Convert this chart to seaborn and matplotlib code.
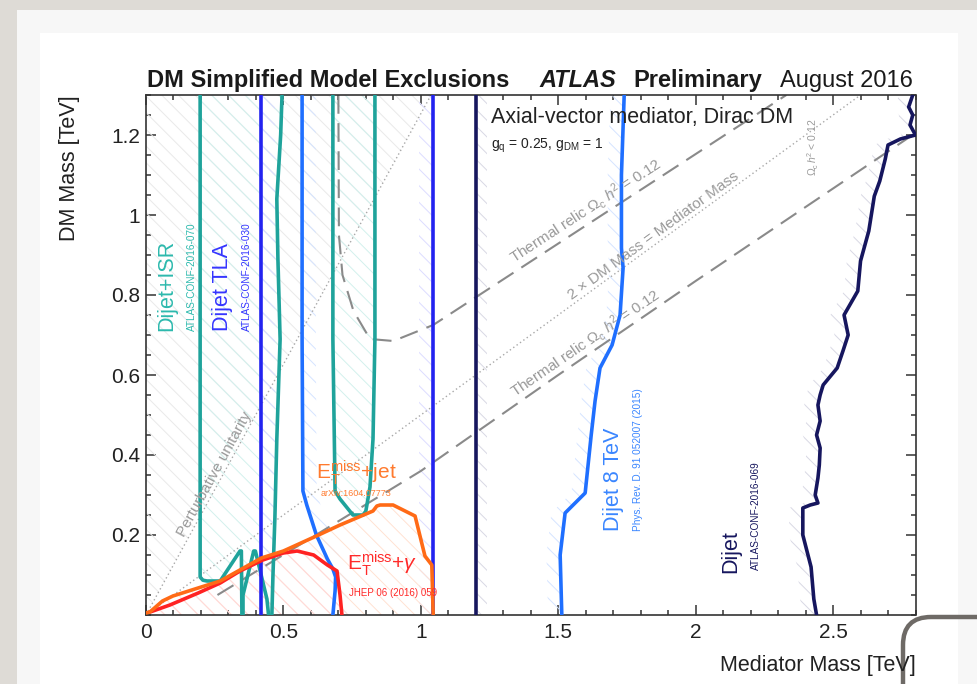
import numpy as np
import pandas as pd
import matplotlib
matplotlib.use("Agg")
import matplotlib.pyplot as plt
import seaborn as sns
from matplotlib.patches import Rectangle, FancyBboxPatch
from matplotlib.ticker import MultipleLocator

# ---------------- data (TeV) ----------------
# Dijet+ISR (ATLAS-CONF-2016-070) contour pieces
isr1_x = [0.197, 0.197, 0.207, 0.222, 0.270, 0.342, 0.347, 0.349]
isr1_y = [1.30, 0.095, 0.087, 0.085, 0.085, 0.160, 0.160, 0.0]
isr2_x = [0.353, 0.353, 0.392, 0.398, 0.440, 0.446]
isr2_y = [0.0, 0.050, 0.160, 0.160, 0.040, 0.0]
isr3_x = [0.458, 0.462, 0.469, 0.476, 0.488, 0.480, 0.476, 0.490, 0.495]
isr3_y = [0.0, 0.100, 0.243, 0.440, 0.690, 0.890, 1.040, 1.200, 1.300]
isru_x = [0.680, 0.680, 0.688, 0.706, 0.753, 0.790, 0.800, 0.815, 0.826, 0.833, 0.833]
isru_y = [1.300, 0.690, 0.310, 0.290, 0.250, 0.250, 0.260, 0.320, 0.440, 0.690, 1.300]

# Dijet TLA (ATLAS-CONF-2016-030) boundaries
tla_bounds = [0.42, 1.045]

# Dijet 8 TeV contour (two boundaries)
d8l_x = [0.568, 0.568, 0.571, 0.585, 0.620, 0.660, 0.680, 0.690, 0.688, 0.680]
d8l_y = [1.30, 0.69, 0.31, 0.275, 0.200, 0.140, 0.115, 0.095, 0.060, 0.0]
d8r_x = [1.513, 1.507, 1.525, 1.598, 1.620, 1.634, 1.652, 1.696, 1.725, 1.736, 1.730, 1.730, 1.740]
d8r_y = [0.0, 0.150, 0.255, 0.305, 0.450, 0.535, 0.6175, 0.675, 0.750, 0.8675, 0.9175, 1.100, 1.300]

# Dijet (ATLAS-CONF-2016-069)
dij_low = 1.20
dij_x = [2.440, 2.430, 2.420, 2.390, 2.390, 2.417, 2.445, 2.435, 2.445, 2.450, 2.453, 2.440,
         2.453, 2.445, 2.453, 2.464, 2.515, 2.536, 2.555, 2.540, 2.590, 2.600, 2.630, 2.645,
         2.650, 2.670, 2.690, 2.700, 2.745, 2.800, 2.780, 2.790, 2.775, 2.790]
dij_y = [0.0, 0.040, 0.120, 0.200, 0.2675, 0.275, 0.280, 0.300, 0.3425, 0.375, 0.4175, 0.450,
         0.485, 0.525, 0.550, 0.575, 0.6175, 0.660, 0.700, 0.750, 0.810, 0.885, 0.960, 1.025,
         1.047, 1.085, 1.140, 1.175, 1.190, 1.200, 1.225, 1.250, 1.270, 1.300]

# ETmiss + jet (arXiv:1604.07773)
mj_x = [0.0, 0.015, 0.060, 0.098, 0.270, 0.420, 0.500, 0.620, 0.706, 0.826, 0.840, 0.852,
        0.899, 0.979, 1.015, 1.040, 1.045]
mj_y = [0.005, 0.008, 0.035, 0.0475, 0.085, 0.1425, 0.160, 0.1975, 0.225, 0.260, 0.2725,
        0.275, 0.275, 0.2475, 0.1475, 0.125, 0.0]
# ETmiss + gamma (JHEP 06 (2016) 059)
mg_x = [0.015, 0.087, 0.190, 0.270, 0.342, 0.425, 0.500, 0.550, 0.610, 0.660, 0.695, 0.706, 0.713]
mg_y = [0.0075, 0.025, 0.055, 0.080, 0.110, 0.1375, 0.155, 0.160, 0.150, 0.125, 0.110, 0.050, 0.0]

# Thermal relic curves
rel_up_x = [0.700, 0.702, 0.715, 0.755, 0.815, 0.900, 1.045, 2.330]
rel_up_y = [1.300, 0.950, 0.850, 0.760, 0.690, 0.685, 0.725, 1.300]
rel_lo_x = [0.26, 1.00, 1.50, 2.00, 2.80]
rel_lo_y = [0.05, 0.36, 0.60, 0.835, 1.205]
# reference lines
twodm_x = [0.0, 2.6]
twodm_y = [0.0, 1.3]
unit_x = [0.0, 1.3 / 1.2533]
unit_y = [0.0, 1.3]

xticks = [0, 0.5, 1, 1.5, 2, 2.5]
xticklabels = ["0", "0.5", "1", "1.5", "2", "2.5"]
yticks = [0.2, 0.4, 0.6, 0.8, 1.0, 1.2]
yticklabels = ["0.2", "0.4", "0.6", "0.8", "1", "1.2"]

# ---------------- style ----------------
sns.set_theme(style="ticks")
plt.rcParams["font.family"] = ["Liberation Sans", "DejaVu Sans"]
plt.rcParams["mathtext.fontset"] = "custom"
plt.rcParams["mathtext.rm"] = "Liberation Sans"
plt.rcParams["mathtext.it"] = "Liberation Sans:italic"
plt.rcParams["mathtext.bf"] = "Liberation Sans:bold"
plt.rcParams["hatch.linewidth"] = 0.7

C_TEAL = "#1fa39b"
C_TEAL_T = "#2cb9ad"
C_TLA = "#2323f0"
C_8 = "#1f6fff"
C_8_T = "#3a86ff"
C_DIJ = "#16165e"
C_ORA = "#ff6a16"
C_RED = "#ff2222"
C_GRAY = "#8a8a8a"

fig = plt.figure(figsize=(9.77, 6.84), dpi=100, facecolor="#dedbd6")
fig.patches.append(Rectangle((17 / 977, 0), 1, 1 - 10 / 684, transform=fig.transFigure,
                             facecolor="#f7f7f7", edgecolor="none", zorder=-10))
fig.patches.append(Rectangle((40 / 977, 0), (958 - 40) / 977, 1 - 33 / 684, transform=fig.transFigure,
                             facecolor="white", edgecolor="none", zorder=-9))
fig.add_artist(FancyBboxPatch((9.03, -0.5), 1.3, 1.17, boxstyle="round,pad=0,rounding_size=0.28",
                              transform=fig.dpi_scale_trans, fill=False, edgecolor="#6e6a66", lw=3.2))

ax = fig.add_axes([146 / 977, (684 - 615) / 684, 769.5 / 977, 520 / 684])
ax.set_facecolor("white")
ax.set_xlim(0, 2.8)
ax.set_ylim(0, 1.3)

H = "\\\\"

def hatch_betweenx(y, x1, x2, color):
    ax.fill_betweenx(y, x1, x2, facecolor="none", edgecolor=color, hatch=H, linewidth=0, zorder=1)

# ---- hatched exclusion areas ----
uy = np.array(unit_y)
hatch_betweenx(uy, 0, uy / 1.2533, "#e9e9e9")
reg1_x = isr1_x + isr2_x + isr3_x
reg1_y = isr1_y + isr2_y + isr3_y
ax.fill(reg1_x, reg1_y, facecolor="none", edgecolor="#d2f0ed", hatch=H, linewidth=0, zorder=1)
ax.fill(isru_x, isru_y, facecolor="none", edgecolor="#d2f0ed", hatch=H, linewidth=0, zorder=1)
yy = np.array([0.0, 1.3])
hatch_betweenx(yy, tla_bounds[0], tla_bounds[0] + 0.05, "#dcdcff")
hatch_betweenx(yy, tla_bounds[1] - 0.05, tla_bounds[1], "#dcdcff")
hatch_betweenx(np.array(d8l_y), np.array(d8l_x), np.array(d8l_x) + 0.05, "#d5e4ff")
hatch_betweenx(np.array(d8r_y), np.array(d8r_x) - 0.05, np.array(d8r_x), "#d5e4ff")
hatch_betweenx(yy, dij_low, dij_low + 0.04, "#d8d8e4")
hatch_betweenx(np.array(dij_y), np.array(dij_x) - 0.05, np.array(dij_x), "#d8d8e4")
ax.fill_between(mj_x, 0, mj_y, facecolor="none", edgecolor="#ffe2d2", hatch=H, linewidth=0, zorder=1)
ax.fill_between(mg_x, 0, mg_y, facecolor="none", edgecolor="#ffd9d9", hatch=H, linewidth=0, zorder=1)

# ---- lines ----
def line(x, y, color, lw=2.6, ls="-", z=3):
    sns.lineplot(x=x, y=y, sort=False, estimator=None, color=color, linewidth=lw,
                 linestyle=ls, ax=ax, zorder=z)

line(unit_x, unit_y, "#a8a8a8", lw=1.0, ls=(0, (1, 2)), z=2)
line(twodm_x, twodm_y, "#a8a8a8", lw=1.0, ls=(0, (1, 2)), z=2)
line(rel_up_x, rel_up_y, C_GRAY, lw=1.5, ls=(0, (9, 4.5)), z=2)
line(rel_lo_x, rel_lo_y, C_GRAY, lw=1.5, ls=(0, (9, 4.5)), z=2)

line(isr1_x, isr1_y, C_TEAL)
line(isr2_x, isr2_y, C_TEAL)
line(isr3_x, isr3_y, C_TEAL)
line(isru_x, isru_y, C_TEAL)
for xb in tla_bounds:
    line([xb, xb], [0.0, 1.3], C_TLA, z=4)
line(d8l_x, d8l_y, C_8, z=4)
line(d8r_x, d8r_y, C_8, z=4)
line([dij_low, dij_low], [0.0, 1.3], C_DIJ, z=4)
line(dij_x, dij_y, C_DIJ, z=4)
line(mg_x, mg_y, C_RED, z=5)
line(mj_x, mj_y, C_ORA, z=6)

# ---- axes styling ----
ax.set_xticks(xticks)
ax.set_xticklabels(xticklabels)
ax.set_yticks(yticks)
ax.set_yticklabels(yticklabels)
ax.xaxis.set_minor_locator(MultipleLocator(0.1))
ax.yaxis.set_minor_locator(MultipleLocator(0.05))
ax.tick_params(which="both", direction="in", top=True, right=True, color="#333333", width=1.1)
ax.tick_params(which="major", length=7.5, labelsize=15, labelcolor="#222222")
ax.tick_params(axis="x", which="major", pad=6)
ax.tick_params(axis="y", which="major", pad=4)
ax.tick_params(which="minor", length=3.8)
for s in ax.spines.values():
    s.set_color("#333333")
    s.set_linewidth(1.2)
ax.set_xlabel("")
ax.set_ylabel("")

fig.text(70 / 977, 1 - 95 / 684, "DM Mass [TeV]", rotation=90, ha="center", va="top",
         fontsize=15.5, color="#222222")
fig.text(916 / 977, 1 - 666 / 684, "Mediator Mass [TeV]", ha="right", va="center",
         fontsize=15.5, color="#222222")

# ---- title ----
ty = 1 - 87 / 684
fig.text(147 / 977, ty, "DM Simplified Model Exclusions", fontsize=17, fontweight="bold",
         va="baseline", color="#1a1a1a")
fig.text(539 / 977, ty, "ATLAS", fontsize=17, fontweight="bold", fontstyle="italic",
         va="baseline", color="#1a1a1a")
fig.text(633 / 977, ty, "Preliminary", fontsize=17, fontweight="bold", va="baseline", color="#1a1a1a")
fig.text(780 / 977, ty, "August 2016", fontsize=17, va="baseline", color="#1a1a1a")

# ---- in-plot text ----
ax.text(1.255, 1.23, "Axial-vector mediator, Dirac DM", fontsize=15.5, va="baseline",
        color="#222222", zorder=7)
ax.text(1.255, 1.167, r"$\mathrm{g}_{\mathrm{q}}$ = 0.25, $\mathrm{g}_{\mathrm{DM}}$ = 1",
        fontsize=10, va="baseline", color="#222222", zorder=7)

def vtext(x, y, s, color, size):
    ax.text(x, y, s, rotation=90, ha="center", va="center", fontsize=size, color=color, zorder=7)

vtext(0.076, 0.824, "Dijet+ISR", C_TEAL_T, 15.5)
vtext(0.167, 0.846, "ATLAS-CONF-2016-070", C_TEAL_T, 7.2)
vtext(0.277, 0.820, "Dijet TLA", "#3535ff", 15.5)
vtext(0.367, 0.846, "ATLAS-CONF-2016-030", "#3535ff", 7.2)
vtext(1.700, 0.339, "Dijet 8 TeV", C_8_T, 15.5)
vtext(1.790, 0.388, "Phys. Rev. D. 91 052007 (2015)", C_8_T, 7.2)
vtext(2.129, 0.159, "Dijet", C_DIJ, 15.5)
vtext(2.220, 0.249, "ATLAS-CONF-2016-069", C_DIJ, 7.2)
vtext(2.427, 1.170, r"$\Omega_{\mathrm{c}}\,h^2$ < 0.12", "#9a9a9a", 7.5)

ax.text(0.764, 0.355, r"$\mathrm{E}_{\mathrm{T}}^{\mathrm{miss}}$+jet", fontsize=15, color="#ff7a2e",
        ha="center", va="center", zorder=7)
ax.text(0.764, 0.305, "arXiv:1604.07773", fontsize=6.5, color="#ff7a2e", ha="center",
        va="center", zorder=7)
ax.text(0.859, 0.128, r"$\mathrm{E}_{\mathrm{T}}^{\mathrm{miss}}$+$\gamma$", fontsize=15, color="#ff2a2a",
        ha="center", va="center", zorder=7)
ax.text(0.900, 0.054, "JHEP 06 (2016) 059", fontsize=7, color="#ff2a2a", ha="center",
        va="center", zorder=7)

def slanted(x, y, s, slope, size=11):
    ax.text(x, y, s, rotation=np.degrees(np.arctan(slope)), transform_rotates_text=True,
            rotation_mode="anchor", ha="center", va="center", fontsize=size, color="#9a9a9a", zorder=7)

slanted(1.600, 1.010, r"Thermal relic $\Omega_{\mathrm{c}}\;h^2$ = 0.12", 0.447)
slanted(1.600, 0.680, r"Thermal relic $\Omega_{\mathrm{c}}\;h^2$ = 0.12", 0.47)
slanted(1.845, 0.948, "2 \u00d7 DM Mass = Mediator Mass", 0.5)
slanted(0.250, 0.352, "Perturbative unitarity", 1.2533)

fig.savefig("out.png", dpi=100, facecolor=fig.get_facecolor())
